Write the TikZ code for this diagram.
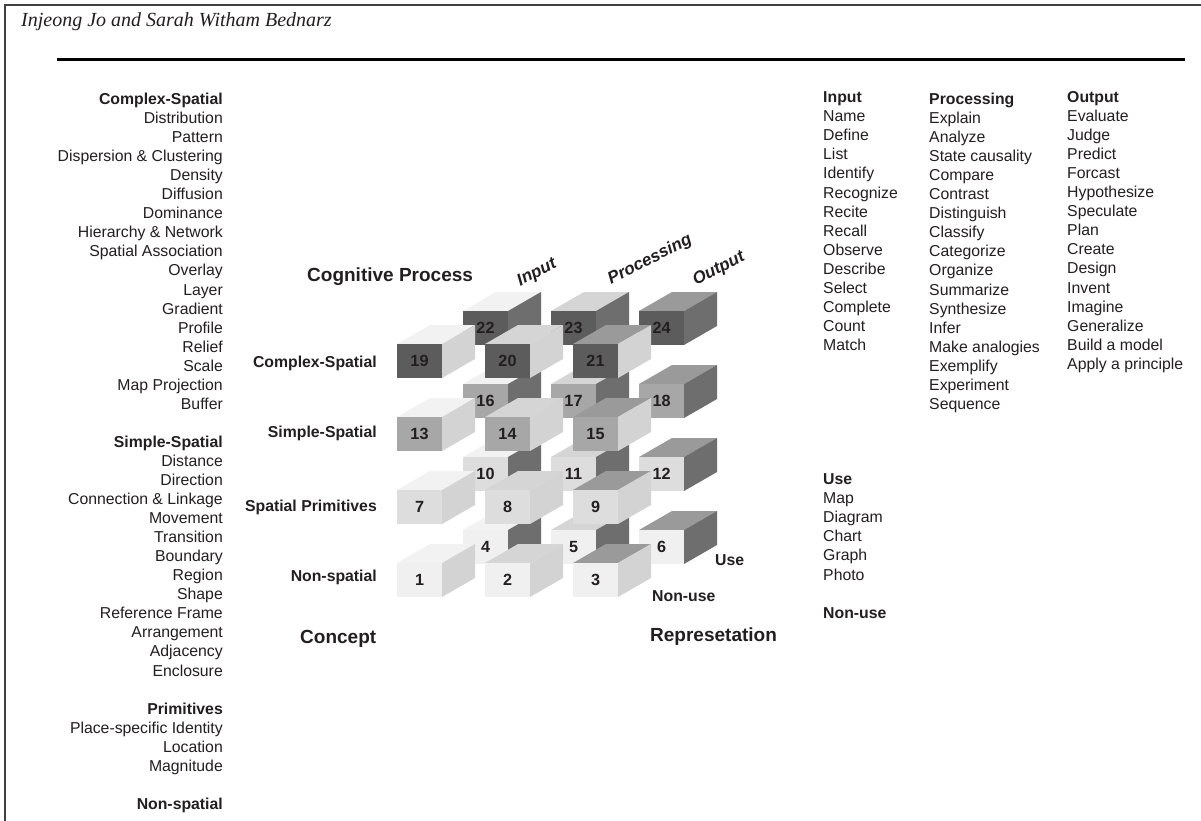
\documentclass[tikz,border=0pt]{standalone}
\usepackage{fontspec}
\setmainfont{Liberation Sans}
\newfontfamily\hdrserif{Liberation Serif}
\definecolor{txt}{HTML}{231F20}
\definecolor{fLthree}{HTML}{5C5C5C}
\definecolor{fLtwo}{HTML}{A7A7A7}
\definecolor{fLone}{HTML}{DDDDDD}
\definecolor{fLzero}{HTML}{F0F0F0}
\definecolor{tIn}{HTML}{F2F2F2}
\definecolor{tPr}{HTML}{D5D5D5}
\definecolor{tOu}{HTML}{9A9A9A}
\definecolor{sNo}{HTML}{D3D3D3}
\definecolor{sUs}{HTML}{6E6E6E}
\newcommand\drawcube[6]{%
  \fill[#4] (#1,#2) -- ++(45,0) -- ++(33,-19) -- ++(-45,0) -- cycle;
  \fill[#5] (#1+45,#2) -- ++(33,-19) -- ++(0,34) -- ++(-33,19) -- cycle;
  \fill[#3] (#1,#2) rectangle ++(45,34);
  \node[num] (c#6) at (#1+22.5,#2+17) {#6};
}
\begin{document}
\begin{tikzpicture}[x=1pt,y=-1pt,
  lst/.style={font=\fontsize{15.8}{19}\selectfont, text=txt, inner sep=0pt},
  hd/.style={font=\fontsize{15.8}{19}\selectfont\bfseries, text=txt, inner sep=0pt},
  big/.style={font=\fontsize{19}{22}\selectfont\bfseries, text=txt, inner sep=0pt},
  num/.style={font=\fontsize{16.2}{19}\selectfont\bfseries, text=txt, inner sep=0pt},
  rot/.style={font=\fontsize{17}{19}\selectfont\bfseries\itshape, text=txt, inner sep=0pt, rotate=27}]
\useasboundingbox (0,0) rectangle (1201,821);
\fill[white] (0,0) rectangle (1201,821);
% frame
\draw[line width=1.6pt, black!75] (5,821) -- (5,5) -- (1201,5);
\node[anchor=base west, font=\hdrserif\itshape\fontsize{20}{22}\selectfont, text=txt, inner sep=0pt] (hdr) at (21,27) {Injeong Jo and Sarah Witham Bednarz};
\draw[line width=3pt, black] (57,60) -- (1185,60);

% left list
\node[hd, anchor=base east] (hcs) at (223,104.5) {Complex-Spatial};
\foreach \t [count=\i] in {Distribution,Pattern,Dispersion \& Clustering,Density,Diffusion,Dominance,Hierarchy \& Network,Spatial Association,Overlay,Layer,Gradient,Profile,Relief,Scale,Map Projection,Buffer}
  \node[lst, anchor=base east] (lcs\i) at (223,{104.5+19.05*\i}) {\t};
\node[hd, anchor=base east] (hss) at (223,{104.5+19.05*18}) {Simple-Spatial};
\foreach \t [count=\i] in {Distance,Direction,Connection \& Linkage,Movement,Transition,Boundary,Region,Shape,Reference Frame,Arrangement,Adjacency,Enclosure}
  \node[lst, anchor=base east] (lss\i) at (223,{104.5+19.05*(18+\i)}) {\t};
\node[hd, anchor=base east] (hpr) at (223,{104.5+19.05*32}) {Primitives};
\foreach \t [count=\i] in {Place-specific Identity,Location,Magnitude}
  \node[lst, anchor=base east] (lpr\i) at (223,{104.5+19.05*(32+\i)}) {\t};
\node[hd, anchor=base east] (hns) at (223,{104.5+19.05*37}) {Non-spatial};

% right lists
\node[hd, anchor=base west] (hin) at (823,102.5) {Input};
\foreach \t [count=\i] in {Name,Define,List,Identify,Recognize,Recite,Recall,Observe,Describe,Select,Complete,Count,Match}
  \node[lst, anchor=base west] (lin\i) at (823,{102.5+19.1*\i}) {\t};
\node[hd, anchor=base west] (huse) at (823,{102.5+19.1*20}) {Use};
\foreach \t [count=\i] in {Map,Diagram,Chart,Graph,Photo}
  \node[lst, anchor=base west] (luse\i) at (823,{102.5+19.1*(20+\i)}) {\t};
\node[hd, anchor=base west] (hnon) at (823,{102.5+19.1*27}) {Non-use};

\node[hd, anchor=base west] (hproc) at (929,104.5) {Processing};
\foreach \t [count=\i] in {Explain,Analyze,State causality,Compare,Contrast,Distinguish,Classify,Categorize,Organize,Summarize,Synthesize,Infer,Make analogies,Exemplify,Experiment,Sequence}
  \node[lst, anchor=base west] (lproc\i) at (929,{104.5+19.05*\i}) {\t};

\node[hd, anchor=base west] (hout) at (1067,102.5) {Output};
\foreach \t [count=\i] in {Evaluate,Judge,Predict,Forcast,Hypothesize,Speculate,Plan,Create,Design,Invent,Imagine,Generalize,Build a model,Apply a principle}
  \node[lst, anchor=base west] (lout\i) at (1067,{102.5+19.05*\i}) {\t};

% cubes: back row (Use)
\foreach \j/\fc in {3/fLthree,2/fLtwo,1/fLone,0/fLzero}
  \foreach \i/\tc in {0/tIn,1/tPr,2/tOu}{
    \pgfmathtruncatemacro\n{6*\j+\i+4}
    \drawcube{463+88*\i}{530-73*\j}{\fc}{\tc}{sUs}{\n}
  }
% cubes: front row (Non-use)
\foreach \j/\fc in {3/fLthree,2/fLtwo,1/fLone,0/fLzero}
  \foreach \i/\tc in {0/tIn,1/tPr,2/tOu}{
    \pgfmathtruncatemacro\n{6*\j+\i+1}
    \drawcube{397+88*\i}{563-73*\j}{\fc}{\tc}{sNo}{\n}
  }

% axis labels
\node[big, anchor=base west] (cp) at (307,281.5) {Cognitive Process};
\node[rot] (ain) at (537,273) {Input};
\node[rot] (apr) at (650,260) {Processing};
\node[rot] (aou) at (719,269) {Output};
\node[hd, anchor=base east] (rcs) at (377,367.7) {Complex-Spatial};
\node[hd, anchor=base east] (rss) at (377,437.7) {Simple-Spatial};
\node[hd, anchor=base east] (rsp) at (377,511.7) {Spatial Primitives};
\node[hd, anchor=base east] (rns) at (377,581.7) {Non-spatial};
\node[hd, anchor=base west] (ruse) at (715,565) {Use};
\node[hd, anchor=base west] (rnon) at (652,601.5) {Non-use};
\node[big, anchor=base west] (ccpt) at (300,643) {Concept};
\node[big, anchor=base west] (crep) at (650,641) {Represetation};
\end{tikzpicture}
\end{document}
